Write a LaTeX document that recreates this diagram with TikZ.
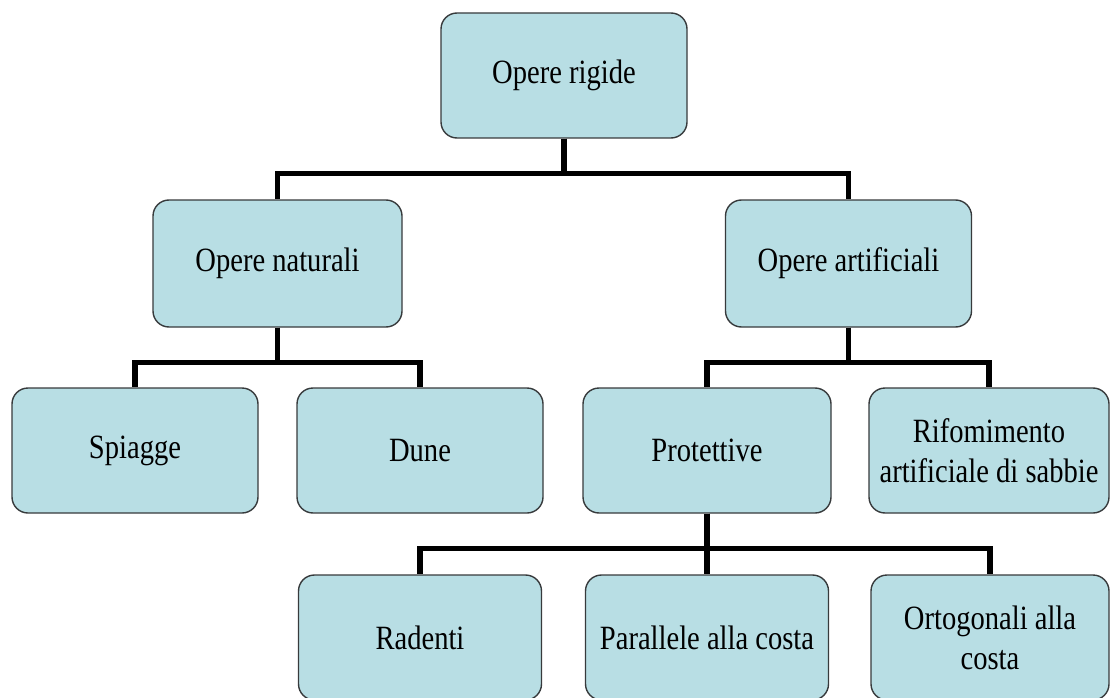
\documentclass[tikz,border=0pt]{standalone}
\usepackage{fontspec}
\setmainfont{Liberation Serif}[FakeStretch=0.84]
\usepackage{tikz}
\usepackage{xcolor}

\definecolor{boxfill}{RGB}{184,222,228}
\definecolor{boxline}{RGB}{55,58,60}

\tikzset{
  box/.style={draw=boxline, line width=1.4pt, fill=boxfill, rounded corners=16pt,
    minimum width=246pt, minimum height=125pt, align=center, inner sep=2pt,
    font=\fontsize{34}{40}\selectfont},
  link/.style={line width=5.5pt, black}
}

\begin{document}
\begin{tikzpicture}[x=1pt,y=-1pt]
\useasboundingbox (0,0) rectangle (1111,698);

\node[box] (rigide) at (564,75.5) {Opere rigide};

\node[box, minimum width=249pt, minimum height=127pt] (naturali) at (277.5,263.5) {Opere naturali};
\node[box, minimum height=127pt] (artificiali) at (848.5,263.5) {Opere artificiali};

\node[box] (spiagge) at (135,450.5) {Spiagge};
\node[box] (dune) at (420,450.5) {Dune};
\node[box, minimum width=248pt] (protettive) at (707,450.5) {Protettive};
\node[box, minimum width=240pt] (rifornimento) at (989,450.5) {Rifomimento\\artificiale di sabbie};

\node[box, minimum width=243pt] (radenti) at (420,637.5) {Radenti};
\node[box, minimum width=243pt] (parallele) at (707,637.5) {Parallele alla costa};
\node[box, minimum width=238pt] (ortogonali) at (990,637.5) {Ortogonali alla\\costa};

% first level
\draw[link] (rigide.south) -- ++(0,35) -| (naturali.north);
\draw[link] (rigide.south) -- ++(0,35) -| (artificiali.north);

% second level
\draw[link] (naturali.south) -- ++(0,35) -| (spiagge.north);
\draw[link] (naturali.south) -- ++(0,35) -| (dune.north);
\draw[link] (artificiali.south) -- ++(0,35) -| (protettive.north);
\draw[link] (artificiali.south) -- ++(0,35) -| (rifornimento.north);

% third level
\draw[link] (protettive.south) -- ++(0,35) -| (radenti.north);
\draw[link] (protettive.south) -- (parallele.north);
\draw[link] (protettive.south) -- ++(0,35) -| (ortogonali.north);

\end{tikzpicture}
\end{document}
